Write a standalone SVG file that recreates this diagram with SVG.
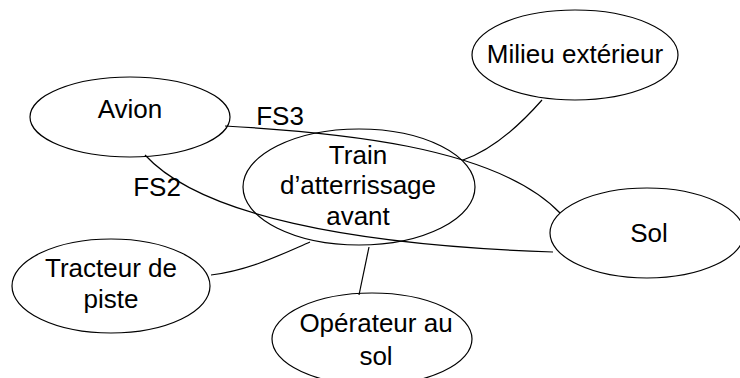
<svg xmlns="http://www.w3.org/2000/svg" width="740" height="378" viewBox="0 0 740 378">
<style>
.n{fill:none;stroke:#000;stroke-width:1.2}
.c{fill:none;stroke:#000;stroke-width:1.2}
text{font-family:"Liberation Sans",Arial,sans-serif;font-size:26px;fill:#000;text-anchor:middle}
</style>
<rect width="740" height="378" fill="#fff"/>
<g id="connectors">
<path class="c" d="M225,126 C330,132 495,145 560,213"/>
<path class="c" d="M145,155 C200,215 350,245 553,252"/>
<path class="c" d="M542,100 C520,125 492,150 463,160"/>
<path class="c" d="M211,275 C250,270 280,255 310,242"/>
<path class="c" d="M359,295 L369,247"/>
</g>
<g id="avion"><ellipse class="n" cx="130" cy="117" rx="100" ry="40"/><text x="130" y="118">Avion</text></g>
<g id="train"><ellipse class="n" cx="359" cy="187" rx="116" ry="58"/><text x="358" y="164">Train</text><text x="358" y="194">d’atterrissage</text><text x="358" y="225">avant</text></g>
<g id="milieu"><ellipse class="n" cx="575" cy="55" rx="103" ry="45"/><text x="575" y="63">Milieu extérieur</text></g>
<g id="sol"><ellipse class="n" cx="647" cy="233" rx="97" ry="45"/><text x="649" y="242">Sol</text></g>
<g id="tracteur"><ellipse class="n" cx="111" cy="286" rx="99" ry="47"/><text x="111" y="277">Tracteur de</text><text x="111" y="308">piste</text></g>
<g id="operateur"><ellipse class="n" cx="372" cy="339" rx="100" ry="46"/><text x="376" y="332">Opérateur au</text><text x="376" y="365">sol</text></g>
<g id="labels"><text x="280" y="125">FS3</text><text x="157" y="196">FS2</text></g>
</svg>
